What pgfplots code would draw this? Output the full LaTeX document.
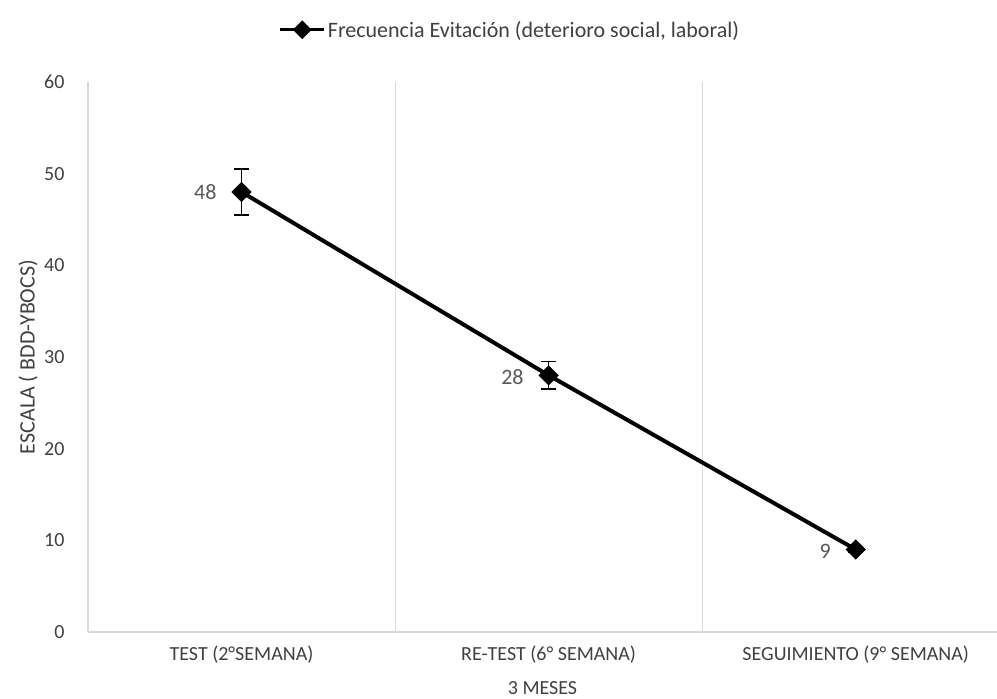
\documentclass[border=0pt]{standalone}
\usepackage{pgfplots}
\pgfplotsset{compat=1.18}
\usepackage{fontspec}
\setmainfont{Carlito}
\definecolor{tickgray}{HTML}{404040}
\definecolor{labgray}{HTML}{595959}
\definecolor{gridgray}{HTML}{D9D9D9}
\begin{document}
\begin{tikzpicture}[x=1pt,y=1pt]
\begin{axis}[
  at={(0,0)}, anchor=south west,
  scale only axis, width=909pt, height=550pt,
  xmin=-0.5, xmax=2.46, ymin=0, ymax=60,
  ytick={0,10,...,60},
  xtick={0,1,2},
  xticklabels={TEST (2°SEMANA), RE-TEST (6° SEMANA), SEGUIMIENTO (9° SEMANA)},
  extra x ticks={0.5,1.5},
  extra x tick labels={},
  extra x tick style={grid=major, major grid style={draw=gridgray, line width=1pt}},
  major tick length=0pt,
  axis x line=bottom, axis y line=left,
  axis line style={draw=gridgray, line width=1.2pt, -},
  tick label style={font=\fontsize{20}{24}\selectfont, text=tickgray},
  /pgf/number format/assume math mode=true,
  yticklabel style={xshift=-20pt},
  xticklabel style={yshift=-10pt},
  xlabel={3 MESES},
  label style={font=\fontsize{20}{24}\selectfont, text=tickgray},
  xlabel style={at={(axis description cs:0.5,0)}, anchor=north, yshift=-46pt},
  legend style={at={(0.464,1.095)}, anchor=center, draw=none, fill=none,
     font=\fontsize{22}{26}\selectfont, inner sep=0pt, text=tickgray},
  legend image code/.code={
     \draw[black, line width=3.5pt] (0pt,0pt) -- (44pt,0pt);
     \fill[black] (22pt,6.5pt) -- (28.5pt,0pt) -- (22pt,-6.5pt) -- (15.5pt,0pt) -- cycle;},
  clip=false,
]
\addplot[black, line width=4pt, mark=square*, mark size=5.2pt,
  mark options={solid, fill=black, rotate=45},
  error bars/.cd, y dir=both, y explicit,
  error bar style={black, line width=1.2pt},
  error mark options={black, rotate=90, mark size=7.5pt, line width=1.2pt}]
 coordinates {(0,48) +- (0,2.5) (1,28) +- (0,1.5) (2,9) +- (0,0.3)};
\addlegendentry{Frecuencia Evitación (deterioro social, laboral)}
\node[font=\fontsize{22}{26}\selectfont, text=labgray, anchor=east] at (axis cs:-0.07,48) {48};
\node[font=\fontsize{22}{26}\selectfont, text=labgray, anchor=east] at (axis cs:0.93,27.8) {28};
\node[font=\fontsize{22}{26}\selectfont, text=labgray, anchor=east] at (axis cs:1.93,8.8) {9};
\end{axis}
\node[rotate=90, font=\fontsize{22}{26}\selectfont, text=tickgray] at (-60pt,275pt) {ESCALA ( BDD-YBOCS)};
\pgfresetboundingbox
\path (-88pt,-67pt) rectangle (909pt,632pt);
\end{tikzpicture}
\end{document}
